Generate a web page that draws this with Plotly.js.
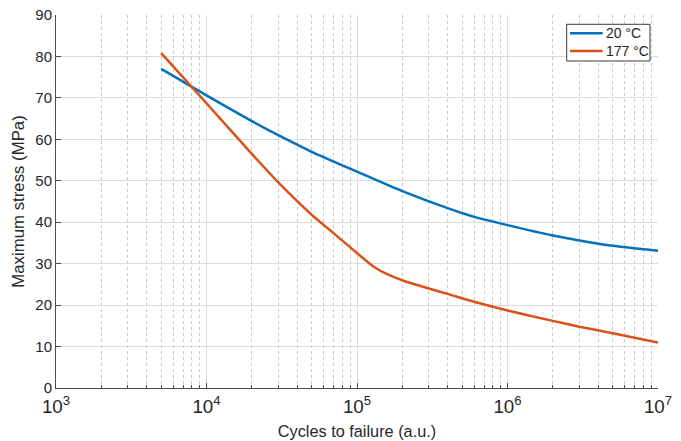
<!DOCTYPE html>
<html>
<head>
<meta charset="utf-8">
<script src="https://cdn.plot.ly/plotly-3.0.1.min.js"></script>
<style>
html,body{margin:0;padding:0;background:#fff;}
#chart{width:681px;height:441px;}
</style>
</head>
<body>
<div id="chart"></div>
<script>
// Data
var seriesNames = ["20 \u00B0C", "177 \u00B0C"];
var cycles20 = [5000, 10000, 20000, 30000, 50000, 100000, 200000, 400000, 600000, 1000000, 2000000, 3000000, 5000000, 10000000];
var stress20 = [77.0, 70.6, 64.4, 61.0, 57.0, 52.2, 47.5, 43.4, 41.3, 39.3, 36.8, 35.6, 34.3, 33.1];
var cycles177 = [5000, 10000, 20000, 30000, 50000, 65000, 90000, 110000, 130000, 160000, 200000, 300000, 400000, 600000, 1000000, 2000000, 3000000, 5000000, 10000000];
var stress177 = [80.8, 68.7, 56.5, 49.6, 41.8, 38.3, 34.0, 31.3, 29.2, 27.4, 26.0, 24.0, 22.7, 20.8, 18.7, 16.2, 14.8, 13.2, 11.0];
var xTitle = "Cycles to failure (a.u.)";
var yTitle = "Maximum stress (MPa)";
var colors = ["#0072BD", "#D95319"];

var font = "Liberation Sans, Arial, Helvetica, sans-serif";
var axisColor = "#4d4d4d";
var textColor = "#262626";

var traces = [
  {x: cycles20, y: stress20, name: seriesNames[0], mode: "lines",
   line: {color: colors[0], width: 2.5, shape: "spline", smoothing: 0.6}},
  {x: cycles177, y: stress177, name: seriesNames[1], mode: "lines",
   line: {color: colors[1], width: 2.5, shape: "spline", smoothing: 0.6}}
];

// Legend drawn as a box in the plot-area domain
var lgX0 = 0.8483, lgX1 = 0.9867, lgY0 = 0.8767, lgY1 = 0.9751;
var lgRows = [0.9509, 0.9035];
var shapes = [
  {type: "rect", xref: "x domain", yref: "y domain", x0: lgX0, x1: lgX1, y0: lgY0, y1: lgY1,
   line: {color: "#3a3a3a", width: 1}, fillcolor: "#ffffff", layer: "above"}
];
var annotations = [];
for (var i = 0; i < seriesNames.length; i++) {
  shapes.push({type: "line", xref: "x domain", yref: "y domain",
    x0: 0.8538, x1: 0.9081, y0: lgRows[i], y1: lgRows[i],
    line: {color: colors[i], width: 2.5}, layer: "above"});
  annotations.push({xref: "x domain", yref: "y domain", x: 0.9095, y: lgRows[i],
    xanchor: "left", yanchor: "middle", showarrow: false, text: seriesNames[i],
    font: {family: font, size: 14, color: textColor}});
}

var layout = {
  width: 681, height: 441,
  margin: {l: 56, r: 23, t: 15, b: 53},
  paper_bgcolor: "#ffffff", plot_bgcolor: "#ffffff",
  font: {family: font, size: 15, color: textColor},
  showlegend: false,
  shapes: shapes,
  annotations: annotations,
  xaxis: {
    type: "log", range: [3, 7], dtick: 1, exponentformat: "power",
    showline: true, linecolor: axisColor, linewidth: 1,
    ticks: "inside", ticklen: 5, tickcolor: axisColor, tickwidth: 1,
    ticklabelstandoff: 2,
    showgrid: true, gridcolor: "#dcdcdc", gridwidth: 1,
    zeroline: false,
    minor: {dtick: "D1", ticks: "inside", ticklen: 3, tickcolor: axisColor,
            showgrid: true, gridcolor: "#c8c8c8", griddash: "dot", gridwidth: 1},
    tickfont: {family: font, size: 15, color: textColor},
    title: {text: xTitle, font: {family: font, size: 16.3, color: textColor}, standoff: 9}
  },
  yaxis: {
    range: [0, 90], dtick: 10,
    showline: true, linecolor: axisColor, linewidth: 1,
    ticks: "inside", ticklen: 5, tickcolor: axisColor, tickwidth: 1,
    showgrid: true, gridcolor: "#dcdcdc", gridwidth: 1,
    zeroline: false,
    tickfont: {family: font, size: 15, color: textColor},
    title: {text: yTitle, font: {family: font, size: 16.8, color: textColor}, standoff: 6}
  }
};

Plotly.newPlot("chart", traces, layout, {staticPlot: true, displayModeBar: false});
</script>
</body>
</html>
